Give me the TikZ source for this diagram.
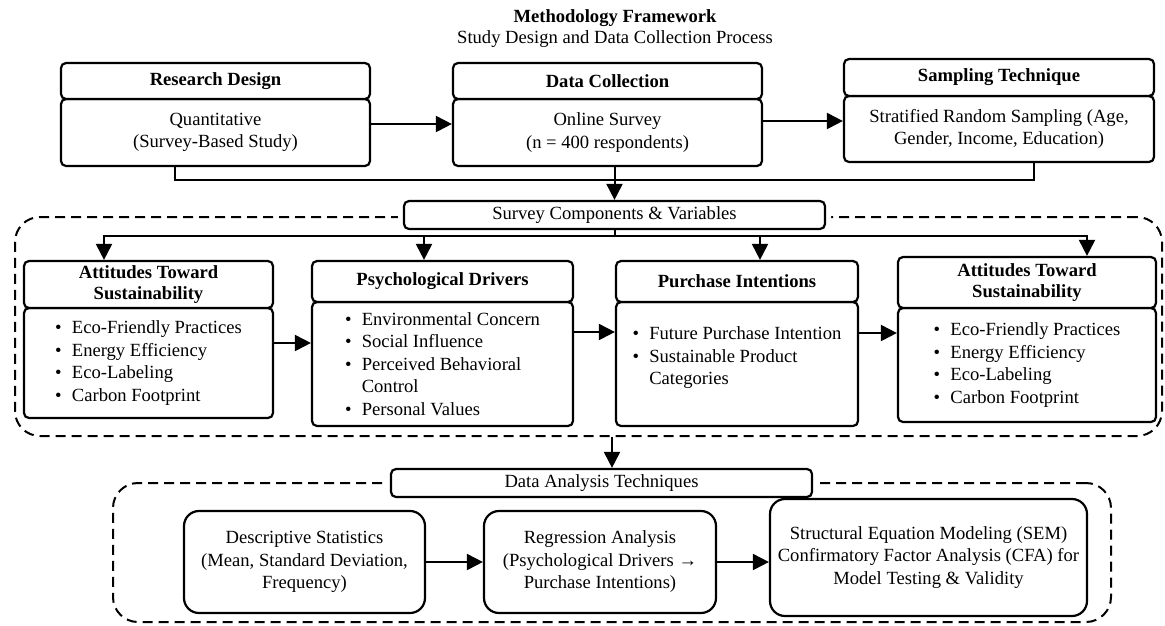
\documentclass[tikz,border=0pt]{standalone}
\usepackage{fontspec}
\setmainfont{Liberation Serif}
\usetikzlibrary{arrows.meta}

\newcommand{\bul}{\textbullet\hspace{0.55em}}
\newcommand{\hang}{\phantom{\textbullet\hspace{0.55em}}}

\begin{document}
\begin{tikzpicture}[x=1pt,y=-1pt,
	font=\fontsize{18.6}{22.5}\selectfont,
	hd/.style={draw,line width=2.2pt,rounded corners=5pt,fill=white,inner sep=0pt,align=center,
		font=\fontsize{18.6}{21}\selectfont\bfseries},
	bd/.style={draw,line width=2.2pt,rounded corners=5pt,inner sep=0pt,align=center},
	lst/.style={bd,align=left},
	tag/.style={draw,line width=2.2pt,rounded corners=5pt,fill=white,inner sep=0pt,
		preaction={draw=white,line width=12pt}},
	ana/.style={draw,line width=2.2pt,rounded corners=15pt,inner sep=0pt,align=center},
	grp/.style={draw,line width=2pt,dash pattern=on 10pt off 6pt,rounded corners=25pt},
	ln/.style={line width=2pt},
	arr/.style={line width=2pt,-{Triangle[length=16pt,width=16pt]}}]
	\useasboundingbox (0,0) rectangle (1165,625);

	% title
	\node[font=\fontsize{18.6}{21}\selectfont\bfseries] (ttl) at (615,18) {Methodology Framework};
	\node (sub) at (615,39) {Study Design and Data Collection Process};

	% dashed groups
	\node[grp,minimum width=1147pt,minimum height=219pt] (grp1) at (588.5,326.5) {};
	\node[grp,minimum width=998pt,minimum height=139pt] (grp2) at (612,552.5) {};

	% top row
	\node[bd,minimum width=309pt,minimum height=67pt] (rdb) at (215.5,132.5) {Quantitative\\(Survey-Based Study)};
	\node[hd,minimum width=309pt,minimum height=36pt] (rdh) at (215.5,81) {Research Design};
	\node[bd,minimum width=309pt,minimum height=67pt] (dcb) at (607.5,132.5) {Online Survey\\(n = 400 respondents)};
	\node[hd,minimum width=309pt,minimum height=36pt] (dch) at (607.5,81) {Data Collection};
	\node[bd,minimum width=310pt,minimum height=66pt] (stb) at (999,129) {Stratified Random Sampling (Age,\\Gender, Income, Education)};
	\node[hd,minimum width=310pt,minimum height=37pt] (sth) at (999,77.5) {Sampling Technique};

	\node[tag,minimum width=421pt,minimum height=28pt] (sv) at (614.5,215) {Survey Components \& Variables};

	% survey components
	\node[lst,minimum width=249pt,minimum height=110pt] (at1b) at (148.5,363)
		{\bul Eco-Friendly Practices\\\bul Energy Efficiency\\\bul Eco-Labeling\\\bul Carbon Footprint};
	\node[hd,minimum width=249pt,minimum height=47pt] (at1h) at (148.5,284.5) {Attitudes Toward\\Sustainability};
	\node[lst,minimum width=261pt,minimum height=124pt] (psb) at (442.5,364)
		{\bul Environmental Concern\\\bul Social Influence\\\bul Perceived Behavioral\\\hang Control\\\bul Personal Values};
	\node[hd,minimum width=261pt,minimum height=41pt] (psh) at (442.5,281.5) {Psychological Drivers};
	\node[lst,minimum width=242pt,minimum height=124pt] (pib) at (737,364)
		{\bul Future Purchase Intention\\\bul Sustainable Product\\\hang Categories\\[-6.5pt]};
	\node[hd,minimum width=242pt,minimum height=41pt] (pih) at (737,281.5) {Purchase Intentions};
	\node[lst,minimum width=258pt,minimum height=114pt] (at2b) at (1027,365)
		{\bul Eco-Friendly Practices\\\bul Energy Efficiency\\\bul Eco-Labeling\\\bul Carbon Footprint};
	\node[hd,minimum width=258pt,minimum height=51pt] (at2h) at (1027,282.5) {Attitudes Toward\\Sustainability};

	% analysis
	\node[tag,minimum width=421pt,minimum height=28pt] (da) at (601.5,483) {Data Analysis Techniques};
	\node[ana,minimum width=241pt,minimum height=102pt] (ds) at (304.5,562)
		{Descriptive Statistics\\(Mean, Standard Deviation,\\Frequency)};
	\node[ana,minimum width=232pt,minimum height=102pt] (rg) at (600,562)
		{Regression Analysis\\(Psychological Drivers →\\Purchase Intentions)};
	\node[ana,minimum width=317pt,minimum height=117pt] (sm) at (928.5,557.5)
		{Structural Equation Modeling (SEM)\\Confirmatory Factor Analysis (CFA) for\\Model Testing \& Validity};

	% connectors
	\draw[arr] ([yshift=8.5pt]rdb.east) -- ([yshift=8.5pt]dcb.west);
	\draw[arr] ([yshift=11.5pt]dcb.east) -- ([yshift=8pt]stb.west);
	\coordinate (bus) at (614.5,180);
	\draw[ln] ([xshift=-40.5pt]rdb.south) |- (bus) -| ([xshift=35pt]stb.south);
	\draw[arr] (dcb.south -| sv.north) -- (sv.north);

	\coordinate (hub) at (614.5,236);
	\draw[ln] (sv.south) -- (hub);
	\draw[arr] (hub) -| ([xshift=-44.5pt]at1h.north);
	\draw[arr] (hub) -| ([xshift=-18.5pt]psh.north);
	\draw[arr] (hub) -| ([xshift=23pt]pih.north);
	\draw[arr] (hub) -| ([xshift=60pt]at2h.north);

	\draw[arr] ([yshift=20pt]at1b.east) -- ([yshift=20pt]at1b.east -| psb.west);
	\draw[arr] ([yshift=32pt]psb.east) -- ([yshift=32pt]psb.east -| pib.west);
	\draw[arr] ([yshift=31pt]pib.east) -- ([yshift=31pt]pib.east -| at2b.west);

	\draw[arr] ([xshift=23.5pt]grp1.south) -- ([xshift=23.5pt]grp1.south |- da.north);
	\draw[arr] (ds.east) -- (rg.west);
	\draw[arr] (rg.east) -- (rg.east -| sm.west);
\end{tikzpicture}
\end{document}
